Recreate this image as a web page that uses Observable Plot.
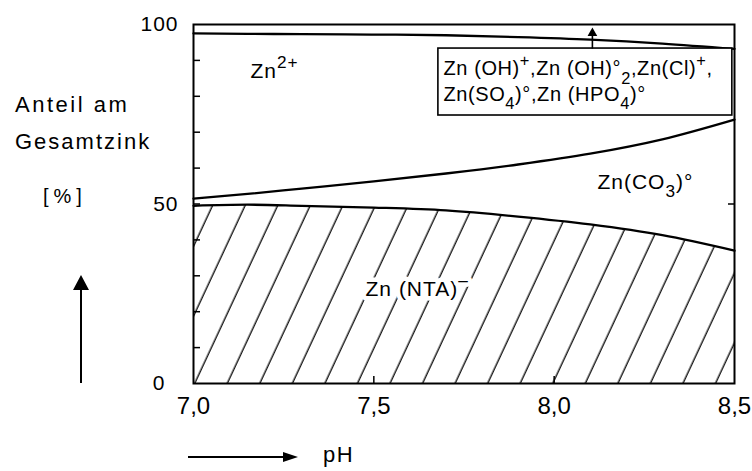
<!DOCTYPE html>
<html><head><meta charset="utf-8">
<script src="https://cdn.jsdelivr.net/npm/d3@7"></script>
<script src="https://cdn.jsdelivr.net/npm/@observablehq/plot@0.6"></script>
<style>
body{margin:0;background:#fff;}
#wrap{position:relative;width:752px;height:471px;font-family:"Liberation Sans",Arial,sans-serif;color:#000;overflow:hidden;}
.lbl{position:absolute;line-height:1;white-space:nowrap;}
.blk{position:absolute;background:#000;}
.tri{position:absolute;width:0;height:0;}
#chart svg text{letter-spacing:1px;}
#chart svg g[aria-label="x-axis tick label"] text{letter-spacing:0;}
</style></head><body>
<div id="wrap">
<div id="chart"></div>
<div class="lbl" style="left:15px;top:94px;font-size:22px;letter-spacing:2.5px">Anteil am</div>
<div class="lbl" style="left:15px;top:131px;font-size:22px;letter-spacing:2px">Gesamtzink</div>
<div class="lbl" style="left:43px;top:186px;font-size:20px;letter-spacing:5px">[%]</div>
<div class="blk" style="left:80.3px;top:288px;width:1.5px;height:95px"></div>
<div class="tri" style="left:72.5px;top:275px;border-left:8.5px solid transparent;border-right:8.5px solid transparent;border-bottom:15px solid #000"></div>
<div class="blk" style="left:188px;top:456.3px;width:96px;height:1.5px"></div>
<div class="tri" style="left:283px;top:451.5px;border-top:5.5px solid transparent;border-bottom:5.5px solid transparent;border-left:15px solid #000"></div>
<div class="lbl" style="left:323px;top:444px;font-size:22px;letter-spacing:1.5px">pH</div>
</div>
<script>
// pH values (x) and shares of total zinc (%) per species
const pH       = [7.0, 7.15, 7.3, 7.5, 7.7, 7.9, 8.1, 8.3, 8.5];
const shareNTA = [49.5, 49.8, 49.5, 49.0, 48.2, 46.5, 44.3, 41.3, 37.0];
const shareCO3 = [2.0, 3.0, 4.8, 7.3, 10.3, 14.5, 19.7, 26.7, 36.5];
const shareZn2 = [46.0, 44.6, 43.0, 40.9, 38.5, 35.5, 31.8, 26.7, 19.7];
// remainder up to 100 % = Zn(OH)+, Zn(OH)2, ZnCl+, ZnSO4, ZnHPO4

const xTicks = [7.0, 7.5, 8.0, 8.5];
const xInnerTicks = [7.5, 8.0];
const yLabelTicks = [50, 100];
const yZeroTick = [0];
const yMinorTicks = [10, 20, 30, 40, 50, 60, 70, 80, 90];
const yRightTicks = [50];

// species annotations (data coordinates)
const speciesText = ["Zn^{2+}", "Zn(CO_{3})°"];
const speciesX = [7.158, 8.12];
const speciesY = [85.2, 54.3];
const ntaText = ["Zn (NTA)^{–}"];
const ntaX = [7.477];
const ntaY = [24.5];
const boxLines = ["Zn (OH)^{+},Zn (OH)°_{2},Zn(Cl)^{+},", "Zn(SO_{4})°,Zn (HPO_{4})°"];
const boxLineX = [7.693, 7.693];
const boxLineY = [85.8, 78.8];
const boxX = [7.679, 8.494];
const boxY = [74.65, 93.3];
const arrowX = [8.106];
const arrowY = [93.3, 97.4];
const arrowHeadY = [97.6];

const rows = pH.map((p, i) => ({
  pH: p,
  nta: shareNTA[i],
  co3: shareNTA[i] + shareCO3[i],
  zn2: shareNTA[i] + shareCO3[i] + shareZn2[i]
}));
const mk = (t, xs, ys) => t.map((s, i) => ({text: s, x: xs[i], y: ys[i]}));
const FS = 21;
const BFS = 20;
const curve = "monotone-x";

const chart = Plot.plot({
  width: 752, height: 471,
  marginLeft: 193, marginRight: 18, marginTop: 24, marginBottom: 88,
  style: {fontFamily: '"Liberation Sans", Arial, sans-serif', background: "white", color: "black"},
  x: {domain: [7.0, 8.5]},
  y: {domain: [0, 100]},
  marks: [
    Plot.areaY(rows, {x: "pH", y1: 0, y2: "nta", fill: "url(#hatch)", curve}),
    Plot.text(mk(ntaText, ntaX, ntaY), {x: "x", y: "y", text: "text", textAnchor: "start", lineAnchor: "bottom",
      fontSize: FS, fill: "black", stroke: "white", strokeWidth: 9, paintOrder: "stroke"}),
    Plot.lineY(rows, {x: "pH", y: "nta", curve, stroke: "black", strokeWidth: 2.3}),
    Plot.lineY(rows, {x: "pH", y: "co3", curve, stroke: "black", strokeWidth: 2.3}),
    Plot.lineY(rows, {x: "pH", y: "zn2", curve, stroke: "black", strokeWidth: 2.3}),
    Plot.rect([{x1: boxX[0], x2: boxX[1], y1: boxY[0], y2: boxY[1]}], {x1: "x1", x2: "x2", y1: "y1", y2: "y2", fill: "white", stroke: "black", strokeWidth: 1.6}),
    Plot.link([{x: arrowX[0], y1: arrowY[0], y2: arrowY[1]}], {x1: "x", x2: "x", y1: "y1", y2: "y2", stroke: "black", strokeWidth: 1.6}),
    Plot.dot([{x: arrowX[0], y: arrowHeadY[0]}], {x: "x", y: "y", symbol: "triangle", r: 3.6, fill: "black", stroke: "none"}),
    Plot.text(mk(speciesText, speciesX, speciesY), {x: "x", y: "y", text: "text", textAnchor: "start", lineAnchor: "bottom", fontSize: FS, fill: "black"}),
    Plot.text(mk(boxLines, boxLineX, boxLineY), {x: "x", y: "y", text: "text", textAnchor: "start", lineAnchor: "bottom", fontSize: BFS, fill: "black"}),
    Plot.frame({stroke: "black", strokeWidth: 2}),
    Plot.axisY({ticks: yMinorTicks, anchor: "left", tickSize: 7, dx: 7, fill: "none", stroke: "black", strokeWidth: 1.5, label: null}),
    Plot.axisY({ticks: yRightTicks, anchor: "right", tickSize: 7, dx: -7, fill: "none", stroke: "black", strokeWidth: 1.5, label: null}),
    Plot.axisX({ticks: xInnerTicks, anchor: "bottom", tickSize: 7, dy: -7, fill: "none", stroke: "black", strokeWidth: 1.5, label: null}),
    Plot.axisY({ticks: yLabelTicks, anchor: "left", tickSize: 0, tickPadding: 15, fontSize: FS, fill: "black", label: null}),
    Plot.axisY({ticks: yZeroTick, anchor: "left", tickSize: 0, tickPadding: 28, fontSize: FS, fill: "black", label: null}),
    Plot.axisX({ticks: xTicks, anchor: "bottom", tickSize: 0, tickPadding: 13, fontSize: 24, fill: "black", label: null,
      tickFormat: d => d.toFixed(1).replace(".", ",")})
  ]
});

const svg = chart;
d3.select(svg).insert("defs", ":first-child").html(
  '<pattern id="hatch" patternUnits="userSpaceOnUse" width="29.5" height="40" patternTransform="rotate(25)">' +
  '<line x1="14" y1="-5" x2="14" y2="45" stroke="black" stroke-width="1.3"/></pattern>');
document.getElementById("chart").appendChild(svg);

// render ^{..} and _{..} as raised / lowered tspans
d3.select(svg).selectAll("text").each(function() {
  const t = this.textContent;
  if (!/[\^_]\{/.test(t)) return;
  const fs = parseFloat(getComputedStyle(this).fontSize) || FS;
  const parts = t.split(/([\^_]\{[^}]*\})/).filter(s => s);
  this.textContent = "";
  let cur = 0;
  for (const p of parts) {
    let shift = 0, small = false, s = p;
    if (p.startsWith("^{")) { shift = -0.45 * fs; small = true; s = p.slice(2, -1); }
    else if (p.startsWith("_{")) { shift = 0.42 * fs; small = true; s = p.slice(2, -1); }
    const ts = d3.select(this).append("tspan").text(s).attr("dy", shift - cur);
    if (small) ts.attr("font-size", 0.82 * fs);
    cur = shift;
  }
});
d3.select(svg).selectAll("g[aria-label='text']").filter(function() {
  return this.textContent.includes("OH");
}).selectAll("text").style("letter-spacing", "0.6px");
</script>
</body></html>
